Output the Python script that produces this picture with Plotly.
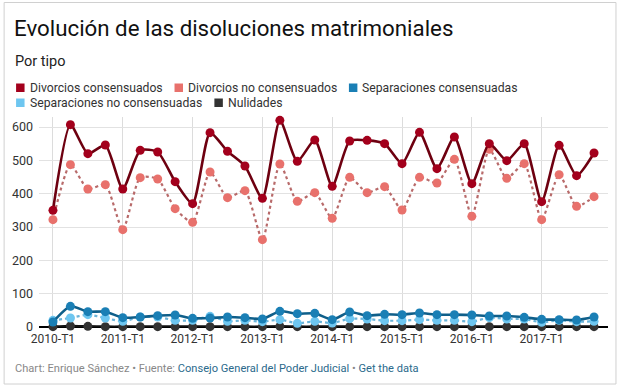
import plotly.graph_objects as go

quarters = [f"{y}-T{q}" for y in range(2010, 2018) for q in range(1, 5)]
tick_labels = [f"{y}-T1" for y in range(2010, 2018)]

div_cons = [350, 607, 520, 546, 414, 530, 525, 436, 370, 583, 527, 483, 386, 620, 497, 561,
            422, 558, 560, 550, 490, 584, 475, 570, 430, 550, 499, 550, 376, 545, 454, 522]
div_nocons = [322, 487, 414, 427, 292, 448, 444, 355, 314, 465, 388, 409, 262, 489, 377, 403,
              326, 449, 403, 421, 351, 449, 432, 503, 332, 533, 446, 490, 322, 457, 362, 391]
sep_cons = [15, 62, 46, 46, 28, 30, 34, 36, 26, 27, 30, 28, 24, 47, 40, 41,
            22, 45, 34, 38, 37, 42, 37, 37, 36, 33, 33, 29, 23, 22, 21, 30]
sep_nocons = [20, 27, 37, 27, 17, 30, 30, 20, 20, 32, 17, 20, 16, 22, 11, 17,
              12, 25, 24, 19, 19, 22, 20, 20, 16, 28, 24, 24, 14, 20, 16, 17]
nulidades = [1, 3, 2, 1, 1, 1, 1, 1, 1, 1, 1, 1, 1, 2, 1, 1,
             1, 1, 1, 1, 1, 1, 1, 1, 1, 1, 1, 1, 1, 1, 1, 1]

series_names = ["Divorcios consensuados", "Divorcios no consensuados", "Separaciones consensuadas",
                "Separaciones no consensuadas", "Nulidades"]
series_values = [div_cons, div_nocons, sep_cons, sep_nocons, nulidades]
marker_colors = ["#a3001c", "#e8716c", "#1a7fb5", "#6ec6f0", "#333333"]
line_colors = ["#6e0010", "#b86a6a", "#0f5f8a", "#6ab3d8", "#111111"]
dashes = ["solid", "dot", "solid", "dot", "solid"]

W, H = 624, 385
L, R, T, B = 37, 16, 117, 58
pw, ph = W - L - R, H - T - B

def px(x):
    return (x - L) / pw

def py(y):
    return (H - B - y) / ph

fig = go.Figure()
for name, vals, mc, lc, d in reversed(list(zip(series_names, series_values, marker_colors, line_colors, dashes))):
    fig.add_trace(go.Scatter(
        x=quarters, y=vals, name=name, mode="lines+markers",
        line=dict(color=lc, width=2.6 if d == "solid" else 2.2, dash=d, shape="spline", smoothing=0.6),
        marker=dict(color=mc, size=9, line=dict(width=0)),
        cliponaxis=False, showlegend=False, hoverinfo="skip",
    ))

shapes = []
annotations = []
# legend
legend_items = [(0, 14, 88), (1, 173, 88), (2, 348, 88), (3, 14, 103), (4, 213, 103)]
for idx, x0, yc in legend_items:
    shapes.append(dict(type="rect", xref="paper", yref="paper",
                       x0=px(x0), x1=px(x0 + 8.5), y0=py(yc - 4.5), y1=py(yc + 4),
                       fillcolor=marker_colors[idx], line=dict(width=0), layer="above"))
    annotations.append(dict(xref="paper", yref="paper", x=px(x0 + 11.5), y=py(yc),
                            xanchor="left", yanchor="middle", showarrow=False,
                            text=series_names[idx], font=dict(size=12.2, color="#333333")))

# title / subtitle / footer
annotations.append(dict(xref="paper", yref="paper", x=px(10), y=py(28), xanchor="left", yanchor="middle",
                        showarrow=False, text="Evolución de las disoluciones matrimoniales",
                        font=dict(size=22.3, color="#111111")))
annotations.append(dict(xref="paper", yref="paper", x=px(11), y=py(61), xanchor="left", yanchor="middle",
                        showarrow=False, text="Por tipo", font=dict(size=14.5, color="#222222")))
annotations.append(dict(xref="paper", yref="paper", x=px(11), y=py(368), xanchor="left", yanchor="middle",
                        showarrow=False,
                        text=("<span style='color:#888888'>Chart: Enrique Sánchez • Fuente: </span>"
                              "<span style='color:#2b6a8c'>Consejo General del Poder Judicial</span>"
                              "<span style='color:#888888'> • </span>"
                              "<span style='color:#2b6a8c'>Get the data</span>"),
                        font=dict(size=11.1)))
# outer border
shapes.append(dict(type="rect", xref="paper", yref="paper", x0=px(2), x1=px(616), y0=py(2.5), y1=py(384),
                   line=dict(color="#d0d0d0", width=1), fillcolor="rgba(0,0,0,0)", layer="below"))

fig.update_layout(
    width=W, height=H, margin=dict(l=L, r=R, t=T, b=B),
    paper_bgcolor="white", plot_bgcolor="white",
    font=dict(family="Roboto, sans-serif", color="#333333"),
    showlegend=False, shapes=shapes, annotations=annotations, hovermode=False,
    xaxis=dict(type="category", categoryorder="array", categoryarray=quarters,
               range=[-0.8, 31.8], tickmode="array", tickvals=tick_labels, ticktext=tick_labels,
               showgrid=True, gridcolor="#dcdcdc", gridwidth=1, ticks="", showline=False,
               zeroline=False, tickfont=dict(size=12, color="#333333"), ticklabelstandoff=3),
    yaxis=dict(range=[0, 630], tickvals=[0, 100, 200, 300, 400, 500, 600],
               showgrid=True, gridcolor="#e2e2e2", gridwidth=1, zeroline=True,
               zerolinecolor="#000000", zerolinewidth=2, showline=False, ticks="",
               tickfont=dict(size=12.5, color="#333333"), ticklabelstandoff=5),
)

fig.write_html("out.html", config={"displayModeBar": False, "staticPlot": True},
               post_script="document.body.style.margin='0px';document.body.style.overflow='hidden';")
